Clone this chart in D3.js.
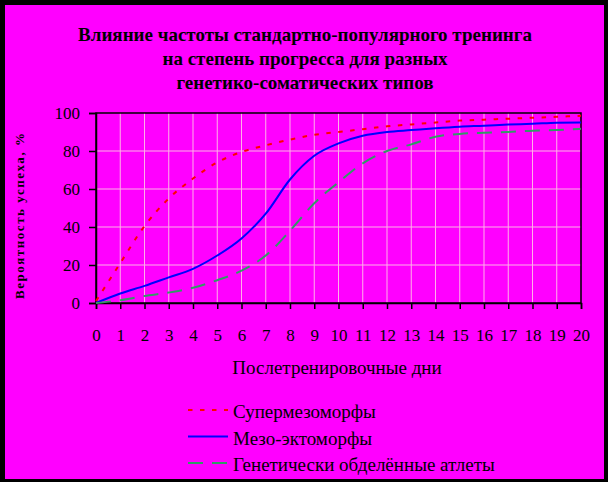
<!DOCTYPE html>
<html>
<head>
<meta charset="utf-8">
<script src="https://cdn.jsdelivr.net/npm/d3@7"></script>
<style>
  html, body { margin: 0; padding: 0; background: #000; }
  svg { display: block; }
  svg text { font-family: "Times New Roman", "Liberation Serif", Tinos, "DejaVu Serif", serif !important; fill: #000; }
</style>
</head>
<body>
<svg id="chart" width="608" height="482"></svg>
<script>
// Post-training days (x categories)
const days = [0, 1, 2, 3, 4, 5, 6, 7, 8, 9, 10, 11, 12, 13, 14, 15, 16, 17, 18, 19, 20];

// Progress, % per day for each type
const superMeso = [1, 21, 40.5, 55, 65.5, 74, 79.5, 83, 86, 88.5, 90, 91.5, 93, 94, 95, 96, 96.5, 97, 97.5, 98, 98.5];
const mesoEcto  = [0, 5, 9, 13.5, 18, 25, 34, 47, 65, 77.5, 84, 88, 90, 91, 92, 92.8, 93.3, 93.9, 94.3, 94.9, 95];
const deprived  = [0, 1.5, 3.7, 5.5, 8, 12, 17, 25, 38, 52.5, 63.5, 73.5, 80, 83.5, 87.5, 89, 89.6, 90, 90.7, 91, 91.7];

const yTicks = [0, 20, 40, 60, 80, 100];
const seriesNames = ["Супермезоморфы", "Мезо-эктоморфы", "Генетически обделённые атлеты"];
const titleLines = [
  "Влияние частоты стандартно-популярного тренинга",
  "на степень прогресса для разных",
  "генетико-соматических типов"
];
const xTitle = "Послетренировочные дни";
const yTitle = "Вероятность успеха, %";

const series = [
  { name: seriesNames[0], values: superMeso, color: "#FF0000", dash: "4.5,7.5" },
  { name: seriesNames[1], values: mesoEcto,  color: "#0000FF", dash: null },
  { name: seriesNames[2], values: deprived,  color: "#339966", dash: "15,9" }
];

const svg = d3.select("#chart");
const W = 608, H = 482;

// Black frame with magenta chart area
svg.append("rect").attr("x", 0).attr("y", 0).attr("width", W).attr("height", H).attr("fill", "#000");
svg.append("rect").attr("x", 5).attr("y", 5).attr("width", 599).attr("height", 474).attr("fill", "#FF00FF");

const plot = { left: 96, right: 581, top: 113, bottom: 303 };
const x = d3.scaleLinear().domain([0, 20]).range([plot.left, plot.right]);
const y = d3.scaleLinear().domain([0, 100]).range([plot.bottom, plot.top]);

// Title
const title = svg.append("g");
titleLines.forEach((t, i) => {
  title.append("text")
    .attr("x", 305).attr("y", 41 + i * 24)
    .attr("text-anchor", "middle")
    .attr("font-size", 19).attr("font-weight", "bold")
    .text(t);
});

// Gridlines
const grid = svg.append("g").attr("stroke", "#FFB0E8").attr("stroke-width", 1);
grid.selectAll("line.v").data(days.filter(d => d > 0 && d < 20)).join("line")
  .attr("x1", d => x(d)).attr("x2", d => x(d))
  .attr("y1", plot.top).attr("y2", plot.bottom);
grid.selectAll("line.h").data(yTicks.filter(d => d > 0 && d < 100)).join("line")
  .attr("x1", plot.left).attr("x2", plot.right)
  .attr("y1", d => y(d)).attr("y2", d => y(d));

// Plot area border
svg.append("rect")
  .attr("x", plot.left).attr("y", plot.top)
  .attr("width", plot.right - plot.left).attr("height", plot.bottom - plot.top)
  .attr("fill", "none").attr("stroke", "#000").attr("stroke-width", 1.5);

// Axes
const xAxis = svg.append("g").attr("transform", `translate(0,${plot.bottom})`)
  .call(d3.axisBottom(x).tickValues(days).tickFormat(d3.format("d")).tickSize(6).tickPadding(20));
const yAxis = svg.append("g").attr("transform", `translate(${plot.left},0)`)
  .call(d3.axisLeft(y).tickValues(yTicks).tickSize(7).tickPadding(9));
[xAxis, yAxis].forEach(a => {
  a.select(".domain").attr("stroke", "#000").attr("stroke-width", 1.5);
  a.selectAll(".tick line").attr("stroke", "#000").attr("stroke-width", 1.5);
  a.selectAll(".tick text").attr("font-size", 17).attr("fill", "#000");
});

// Axis titles
svg.append("text")
  .attr("x", 337).attr("y", 374)
  .attr("text-anchor", "middle")
  .attr("font-size", 19)
  .text(xTitle);
svg.append("text")
  .attr("transform", "translate(24,216) rotate(-90)")
  .attr("text-anchor", "middle")
  .attr("font-size", 13).attr("font-weight", "bold")
  .attr("textLength", 166).attr("lengthAdjust", "spacing")
  .text(yTitle);

// Curves
const line = d3.line()
  .x((d, i) => x(days[i]))
  .y(d => y(d))
  .curve(d3.curveMonotoneX);

svg.append("g").selectAll("path").data(series).join("path")
  .attr("d", s => line(s.values))
  .attr("fill", "none")
  .attr("stroke", s => s.color)
  .attr("stroke-width", 2)
  .attr("stroke-dasharray", s => s.dash);

// Legend
const legend = svg.append("g");
series.forEach((s, i) => {
  const cy = 410 + i * 26.5;
  legend.append("line")
    .attr("x1", 188).attr("x2", 228)
    .attr("y1", cy).attr("y2", cy)
    .attr("stroke", s.color).attr("stroke-width", 2)
    .attr("stroke-dasharray", s.dash);
  legend.append("text")
    .attr("x", 233).attr("y", cy + 8)
    .attr("font-size", 19)
    .text(s.name);
});
</script>
</body>
</html>
